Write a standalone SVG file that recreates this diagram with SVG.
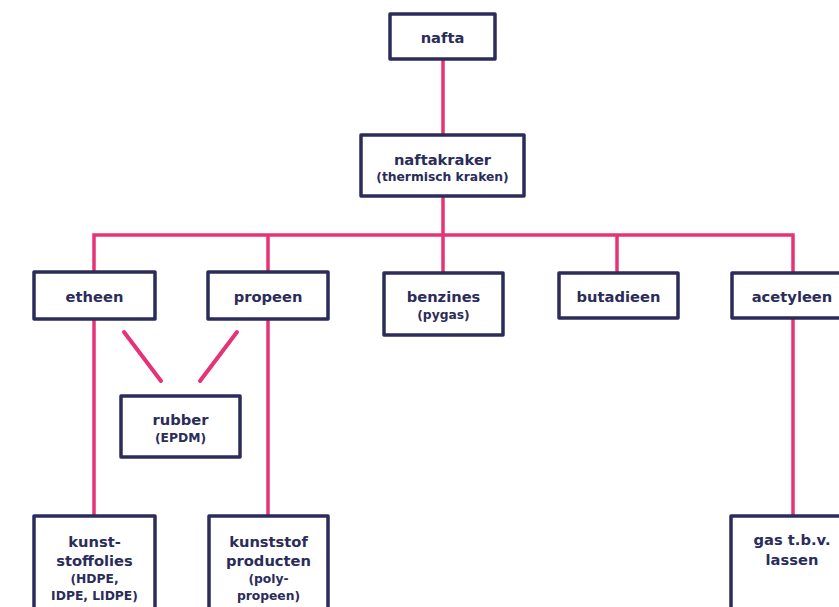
<svg xmlns="http://www.w3.org/2000/svg" width="839" height="607" viewBox="0 0 839 607">
<style>
.box{fill:#fff;stroke:#2b2c5a;stroke-width:3.5;stroke-linejoin:round}
.ln{stroke:#e83278;stroke-width:3.5;fill:none;stroke-linecap:butt}
.dg{stroke:#e83278;stroke-width:4;fill:none;stroke-linecap:round}
.t{font-family:"DejaVu Sans","Liberation Sans",sans-serif;font-weight:700;fill:#2b2c5a;text-anchor:middle;font-size:14.7px}
.s{font-family:"DejaVu Sans","Liberation Sans",sans-serif;font-weight:700;fill:#2b2c5a;text-anchor:middle;font-size:12.3px}
</style>
<rect width="839" height="607" fill="#fff"/>
<g id="connectors">
<line class="ln" x1="443" y1="59" x2="443" y2="135"/>
<line class="ln" x1="443" y1="196" x2="443" y2="235"/>
<polyline class="ln" points="94,272 94,235 793,235 793,273"/>
<line class="ln" x1="268" y1="235" x2="268" y2="272"/>
<line class="ln" x1="443" y1="235" x2="443" y2="273"/>
<line class="ln" x1="617" y1="235" x2="617" y2="273"/>
<line class="ln" x1="94" y1="319" x2="94" y2="516"/>
<line class="ln" x1="268" y1="319" x2="268" y2="516"/>
<line class="ln" x1="793" y1="318" x2="793" y2="516"/>
<line class="dg" x1="124" y1="332" x2="161" y2="381"/>
<line class="dg" x1="237" y1="332" x2="200" y2="381"/>
</g>
<g id="nafta"><rect class="box" x="390" y="14" width="105" height="45"/><text class="t" x="442.5" y="43">nafta</text></g>
<g id="naftakraker"><rect class="box" x="361" y="135" width="163" height="61"/><text class="t" x="442.5" y="165">naftakraker</text><text class="s" x="442.5" y="181">(thermisch kraken)</text></g>
<g id="etheen"><rect class="box" x="34" y="272" width="121" height="47"/><text class="t" x="94.5" y="302">etheen</text></g>
<g id="propeen"><rect class="box" x="208" y="272" width="120" height="47"/><text class="t" x="268" y="302">propeen</text></g>
<g id="benzines"><rect class="box" x="384" y="273" width="119" height="62"/><text class="t" x="443.5" y="302">benzines</text><text class="s" x="443.5" y="319">(pygas)</text></g>
<g id="butadieen"><rect class="box" x="559" y="273" width="119" height="45"/><text class="t" x="618.5" y="302">butadieen</text></g>
<g id="acetyleen"><rect class="box" x="732" y="273" width="121" height="45"/><text class="t" x="792" y="302">acetyleen</text></g>
<g id="rubber"><rect class="box" x="121" y="396" width="119" height="61"/><text class="t" x="180.5" y="425">rubber</text><text class="s" x="180.5" y="442">(EPDM)</text></g>
<g id="kunststoffolies"><rect class="box" x="34" y="516" width="121" height="100"/><text class="t" x="94.5" y="547">kunst-</text><text class="t" x="94.5" y="566">stoffolies</text><text class="s" x="94.5" y="583">(HDPE,</text><text class="s" x="94.5" y="600">IDPE, LIDPE)</text></g>
<g id="kunststofproducten"><rect class="box" x="209" y="516" width="119" height="100"/><text class="t" x="268.5" y="547">kunststof</text><text class="t" x="268.5" y="566">producten</text><text class="s" x="268.5" y="583">(poly-</text><text class="s" x="268.5" y="600">propeen)</text></g>
<g id="gas"><rect class="box" x="731" y="516" width="121" height="100"/><text class="t" x="792" y="545">gas t.b.v.</text><text class="t" x="792" y="565">lassen</text></g>
</svg>
